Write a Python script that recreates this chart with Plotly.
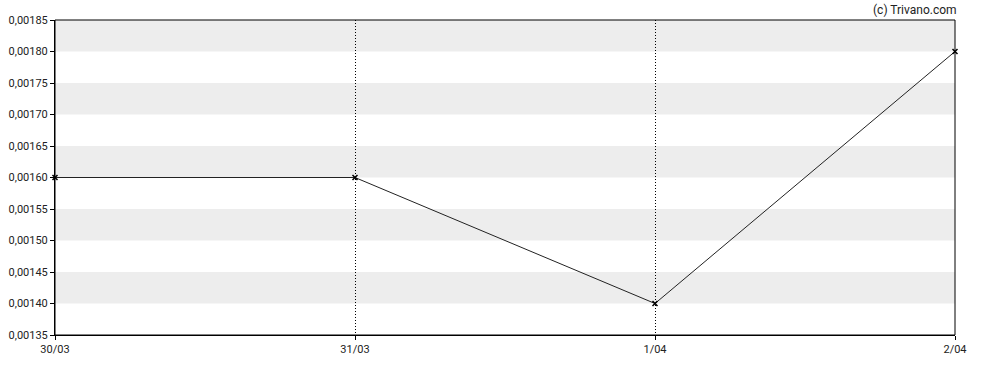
import plotly.graph_objects as go

dates = ["30/03", "31/03", "1/04", "2/04"]
values = [0.00160, 0.00160, 0.00140, 0.00180]
y_ticks = [0.00135, 0.00140, 0.00145, 0.00150, 0.00155, 0.00160, 0.00165, 0.00170, 0.00175, 0.00180, 0.00185]
band_starts = [0.00140, 0.00150, 0.00160, 0.00170, 0.00180]
band_width = 0.00005

xs = list(range(len(dates)))

fig = go.Figure()
fig.add_trace(go.Scatter(
    x=xs, y=values, mode="lines+markers",
    line=dict(color="#222222", width=1),
    marker=dict(symbol="x-thin", size=5, color="#000000", line=dict(width=1.5, color="#000000")),
    hoverinfo="skip", showlegend=False, cliponaxis=False,
))

shapes = []
for b in band_starts:
    shapes.append(dict(type="rect", xref="paper", yref="y", x0=0, x1=1, y0=b, y1=b + band_width,
                       fillcolor="#ededed", line=dict(width=0), layer="below"))
shapes.append(dict(type="rect", xref="paper", yref="paper", x0=0, x1=1, y0=0, y1=1,
                   line=dict(color="#000000", width=1), fillcolor="rgba(0,0,0,0)", layer="above"))

fig.update_layout(
    width=988, height=370,
    margin=dict(l=55, r=33, t=20, b=35),
    paper_bgcolor="white", plot_bgcolor="white",
    font=dict(family="Roboto, sans-serif", size=11, color="#222222"),
    separators=", ",
    shapes=shapes,
    xaxis=dict(
        range=[0, len(dates) - 1], tickvals=xs, ticktext=dates,
        showgrid=True, gridcolor="#000000", gridwidth=1, griddash="1px,2px",
        showline=True, linecolor="#000000", linewidth=1,
        ticks="outside", ticklen=4, tickcolor="#000000",
        zeroline=False, fixedrange=True, automargin=False,
    ),
    yaxis=dict(
        range=[y_ticks[0], y_ticks[-1]], tickvals=y_ticks, tickformat=".5f",
        showgrid=False, showline=True, linecolor="#000000", linewidth=1,
        ticks="outside", ticklen=4, tickcolor="#000000",
        zeroline=False, fixedrange=True, automargin=False,
    ),
    annotations=[dict(text="(c) Trivano.com", xref="paper", yref="paper", x=1.0, y=1.0,
                      xanchor="right", yanchor="bottom", yshift=1, xshift=4, showarrow=False,
                      font=dict(size=12, color="#222222"))],
)

fig.write_html("out.html")
